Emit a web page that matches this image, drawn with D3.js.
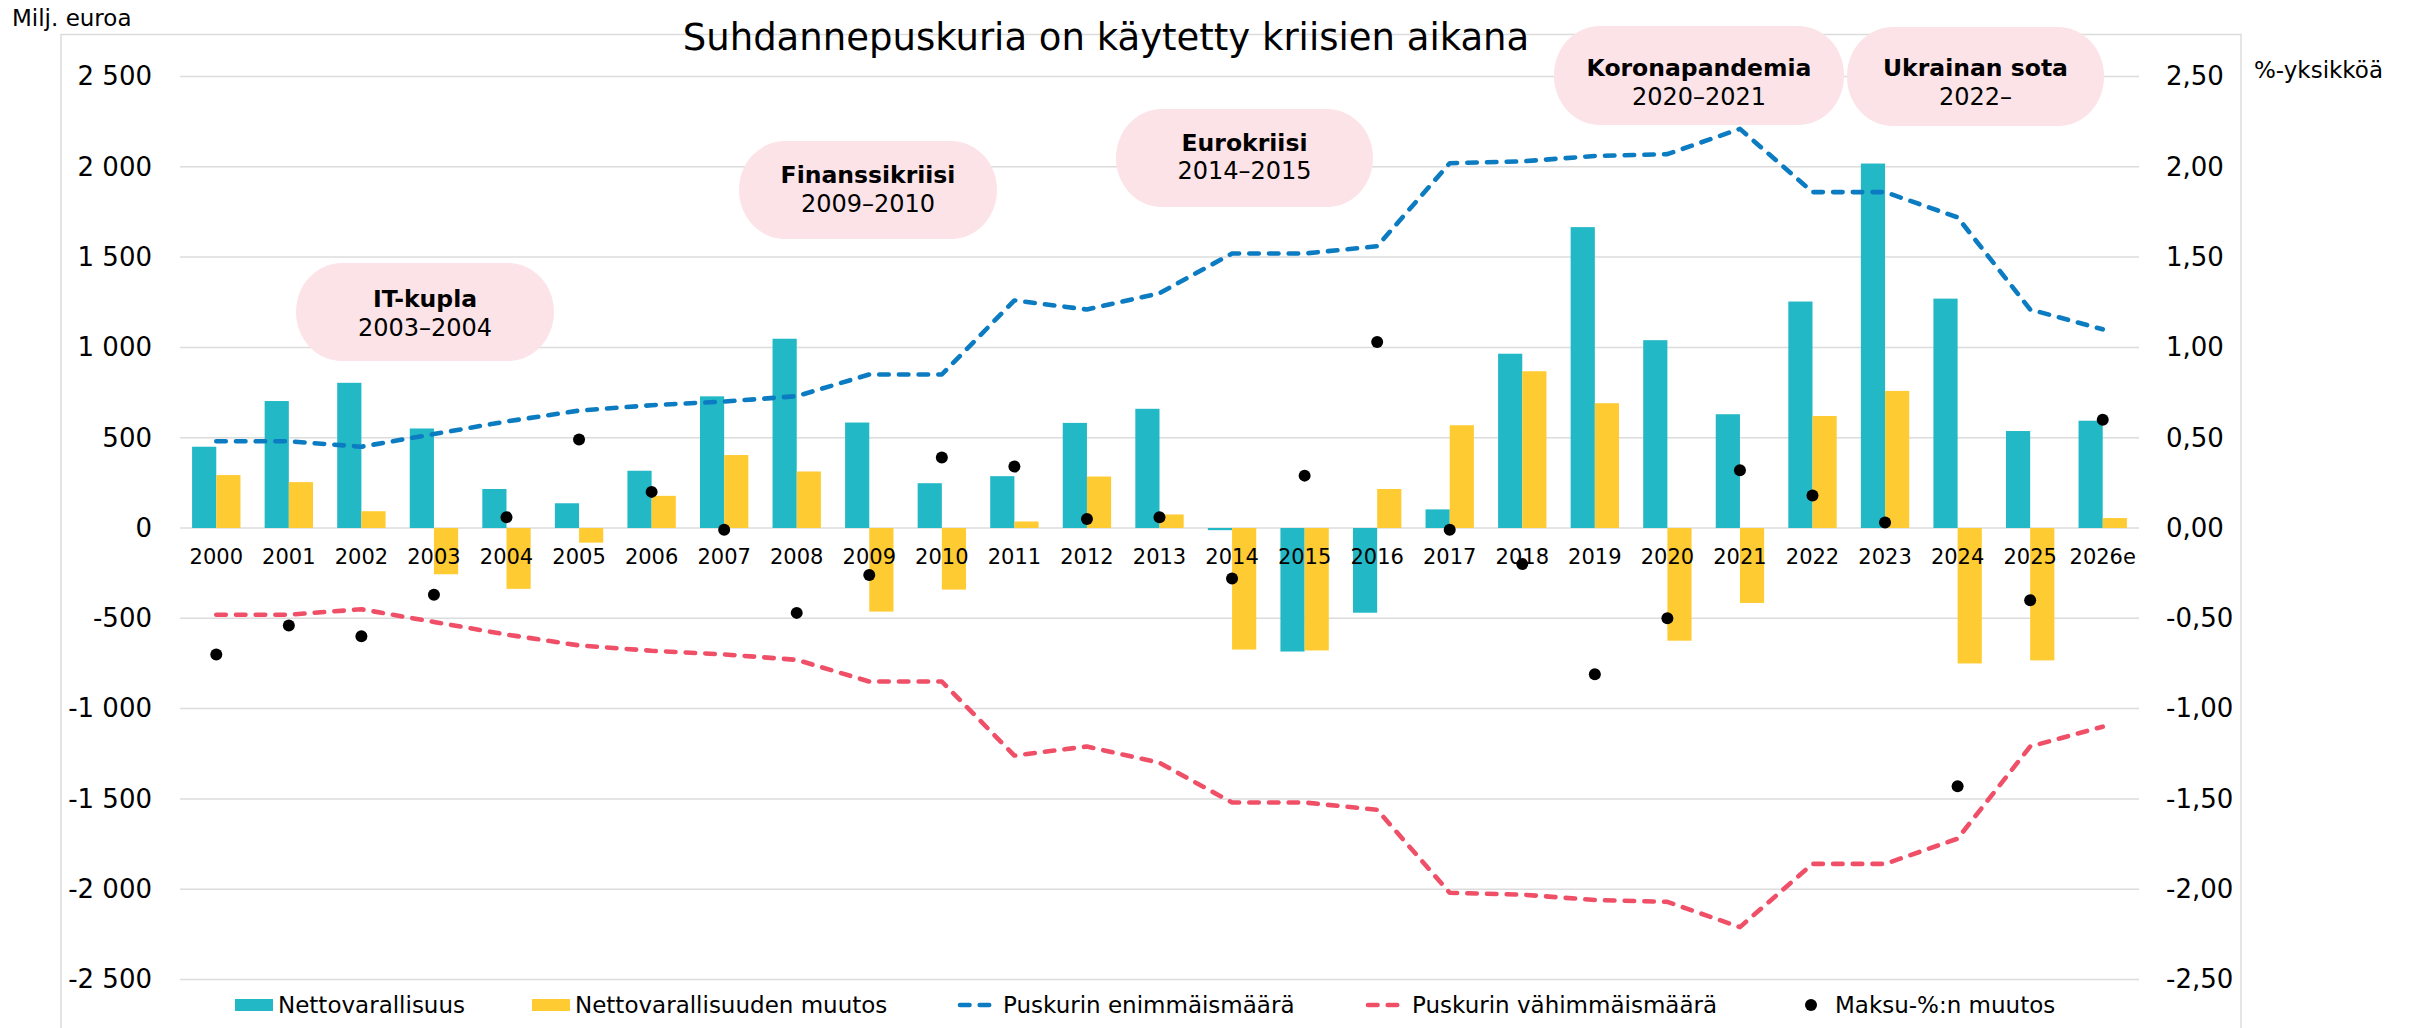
<!DOCTYPE html>
<html>
<head>
<meta charset="utf-8">
<script src="https://cdn.jsdelivr.net/npm/d3@7"></script>
<style>
  body { margin: 0; background: #fff; }
  svg text { font-family: "DejaVu Sans", Verdana, sans-serif; fill: #000; }
</style>
</head>
<body>
<div id="wrapper"></div>
<script>
// values
const categories = ["2000", "2001", "2002", "2003", "2004", "2005", "2006", "2007", "2008", "2009",
  "2010", "2011", "2012", "2013", "2014", "2015", "2016", "2017", "2018", "2019",
  "2020", "2021", "2022", "2023", "2024", "2025", "2026e"];

// milj. euroa (left axis)
const nettovarallisuus = [450, 703, 804, 551, 216, 137, 317, 729, 1048, 584,
  248, 287, 582, 660, -12, -684, -469, 103, 965, 1666,
  1040, 630, 1254, 2018, 1270, 537, 594];
const nettovarallisuudenMuutos = [293, 254, 93, -256, -337, -81, 178, 404, 313, -463,
  -341, 36, 285, 75, -673, -678, 216, 569, 868, 691,
  -624, -415, 620, 759, -750, -733, 55];

// %-yksikköä (right axis)
const puskurinEnimmais = [0.48, 0.48, 0.45, 0.52, 0.59, 0.65, 0.68, 0.70, 0.73, 0.85,
  0.85, 1.26, 1.21, 1.30, 1.52, 1.52, 1.56, 2.02, 2.03, 2.06,
  2.07, 2.21, 1.86, 1.86, 1.72, 1.21, 1.10];
const puskurinVahimmais = [-0.48, -0.48, -0.45, -0.52, -0.59, -0.65, -0.68, -0.70, -0.73, -0.85,
  -0.85, -1.26, -1.21, -1.30, -1.52, -1.52, -1.56, -2.02, -2.03, -2.06,
  -2.07, -2.21, -1.86, -1.86, -1.72, -1.21, -1.10];
const maksuMuutos = [-0.70, -0.54, -0.60, -0.37, 0.06, 0.49, 0.20, -0.01, -0.47, -0.26,
  0.39, 0.34, 0.05, 0.06, -0.28, 0.29, 1.03, -0.01, -0.20, -0.81,
  -0.50, 0.32, 0.18, 0.03, -1.43, -0.40, 0.60];

const leftTicks = [-2500, -2000, -1500, -1000, -500, 0, 500, 1000, 1500, 2000, 2500];
const rightTicks = [-2.5, -2, -1.5, -1, -0.5, 0, 0.5, 1, 1.5, 2, 2.5];

const crises = ["IT-kupla", "Finanssikriisi", "Eurokriisi", "Koronapandemia", "Ukrainan sota"];
const crisisYears = ["2003\u20132004", "2009\u20132010", "2014\u20132015", "2020\u20132021", "2022\u2013"];

const seriesNames = ["Nettovarallisuus", "Nettovarallisuuden muutos", "Puskurin enimmäismäärä",
  "Puskurin vähimmäismäärä", "Maksu-%:n muutos"];

const colors = {
  teal: "#23b8c6",
  yellow: "#ffcb33",
  blue: "#0b7bc2",
  red: "#ef5068",
  grid: "#dcdcdc",
  bubble: "#fce3e7"
};

const dimension = {
  width: 2417,
  height: 1028,
  plotLeft: 180,
  plotRight: 2139,
  plotTop: 76.5,
  plotBottom: 979.5
};

const fi = d3.formatLocale({ decimal: ",", thousands: "\u00a0", grouping: [3], currency: ["", ""], minus: "-" });
const fmtLeft = fi.format(",.0f");
const fmtRight = fi.format(".2f");

const svg = d3.select("#wrapper").append("svg")
  .attr("width", dimension.width)
  .attr("height", dimension.height);

const scaleX = d3.scaleBand()
  .domain(categories)
  .range([dimension.plotLeft, dimension.plotRight]);
const bw = scaleX.bandwidth();

const scaleY = d3.scaleLinear()
  .domain([-2500, 2500])
  .range([dimension.plotBottom, dimension.plotTop]);
const scaleY2 = d3.scaleLinear()
  .domain([-2.5, 2.5])
  .range([dimension.plotBottom, dimension.plotTop]);

// frame
svg.append("rect")
  .attr("x", 61).attr("y", 34.5)
  .attr("width", 2180).attr("height", 1040)
  .attr("fill", "none")
  .attr("stroke", colors.grid)
  .attr("stroke-width", 1.5);

// gridlines
svg.append("g").selectAll("line")
  .data(leftTicks)
  .join("line")
  .attr("x1", dimension.plotLeft).attr("x2", dimension.plotRight)
  .attr("y1", d => scaleY(d)).attr("y2", d => scaleY(d))
  .attr("stroke", colors.grid)
  .attr("stroke-width", 1.5);

// left axis
const axisLeft = svg.append("g")
  .attr("transform", "translate(152,0)")
  .call(d3.axisLeft(scaleY).tickValues(leftTicks).tickFormat(fmtLeft).tickSize(0).tickPadding(0));
axisLeft.select(".domain").remove();
axisLeft.selectAll("text")
  .attr("font-size", 26)
  .style("font-family", "DejaVu Sans")
  .attr("fill", "#000");

// right axis
const axisRight = svg.append("g")
  .attr("transform", "translate(2166,0)")
  .call(d3.axisRight(scaleY2).tickValues(rightTicks).tickFormat(fmtRight).tickSize(0).tickPadding(0));
axisRight.select(".domain").remove();
axisRight.selectAll("text")
  .attr("font-size", 26)
  .style("font-family", "DejaVu Sans")
  .attr("fill", "#000");

// axis titles & chart title
svg.append("text").attr("x", 12).attr("y", 26).attr("font-size", 23).text("Milj. euroa");
svg.append("text").attr("x", 2254).attr("y", 78).attr("font-size", 23).text("%-yksikköä");
svg.append("text")
  .attr("x", 1106).attr("y", 50)
  .attr("text-anchor", "middle")
  .attr("font-size", 37)
  .text("Suhdannepuskuria on käytetty kriisien aikana");

// bars
const barW = bw / 3;
const bars = svg.append("g");
bars.selectAll("rect.netto")
  .data(nettovarallisuus)
  .join("rect")
  .attr("class", "netto")
  .attr("x", (d, i) => scaleX(categories[i]) + bw / 6)
  .attr("y", d => scaleY(Math.max(0, d)))
  .attr("width", barW)
  .attr("height", d => Math.abs(scaleY(d) - scaleY(0)))
  .attr("fill", colors.teal);
bars.selectAll("rect.muutos")
  .data(nettovarallisuudenMuutos)
  .join("rect")
  .attr("class", "muutos")
  .attr("x", (d, i) => scaleX(categories[i]) + bw / 2)
  .attr("y", d => scaleY(Math.max(0, d)))
  .attr("width", barW)
  .attr("height", d => Math.abs(scaleY(d) - scaleY(0)))
  .attr("fill", colors.yellow);

// category labels
svg.append("g").selectAll("text")
  .data(categories)
  .join("text")
  .attr("x", d => scaleX(d) + bw / 2)
  .attr("y", 564)
  .attr("text-anchor", "middle")
  .attr("font-size", 21)
  .text(d => d);

// dashed lines
const line = d3.line()
  .x((d, i) => scaleX(categories[i]) + bw / 2)
  .y(d => scaleY2(d));

[[puskurinEnimmais, colors.blue], [puskurinVahimmais, colors.red]].forEach(([vals, c]) => {
  svg.append("path")
    .datum(vals)
    .attr("d", line)
    .attr("fill", "none")
    .attr("stroke", c)
    .attr("stroke-width", 4.6)
    .attr("stroke-linecap", "round")
    .attr("stroke-linejoin", "round")
    .attr("stroke-dasharray", "9.5 10.2");
});

// dots
svg.append("g").selectAll("circle")
  .data(maksuMuutos)
  .join("circle")
  .attr("cx", (d, i) => scaleX(categories[i]) + bw / 2)
  .attr("cy", d => scaleY2(d))
  .attr("r", 6)
  .attr("fill", "#000");

// crisis bubbles (pixel layout)
const bubbleBoxes = [
  { x0: 296, x1: 554, y0: 263, y1: 361, t1: 299, t2: 328 },
  { x0: 739, x1: 997, y0: 141, y1: 239, t1: 175, t2: 204 },
  { x0: 1116, x1: 1373, y0: 109, y1: 207, t1: 143, t2: 171 },
  { x0: 1554, x1: 1844, y0: 26, y1: 125, t1: 68, t2: 97 },
  { x0: 1847, x1: 2104, y0: 27, y1: 126, t1: 68, t2: 97 }
];
const bubbles = svg.append("g").selectAll("g")
  .data(crises)
  .join("g");
bubbles.append("rect")
  .attr("x", (d, i) => bubbleBoxes[i].x0)
  .attr("y", (d, i) => bubbleBoxes[i].y0)
  .attr("width", (d, i) => bubbleBoxes[i].x1 - bubbleBoxes[i].x0)
  .attr("height", (d, i) => bubbleBoxes[i].y1 - bubbleBoxes[i].y0)
  .attr("rx", 46).attr("ry", 49)
  .attr("fill", colors.bubble);
bubbles.append("text")
  .attr("x", (d, i) => (bubbleBoxes[i].x0 + bubbleBoxes[i].x1) / 2)
  .attr("y", (d, i) => bubbleBoxes[i].t1)
  .attr("dy", "0.35em")
  .attr("text-anchor", "middle")
  .attr("font-size", 23.5)
  .attr("font-weight", "bold")
  .text(d => d);
bubbles.append("text")
  .attr("x", (d, i) => (bubbleBoxes[i].x0 + bubbleBoxes[i].x1) / 2)
  .attr("y", (d, i) => bubbleBoxes[i].t2)
  .attr("dy", "0.35em")
  .attr("text-anchor", "middle")
  .attr("font-size", 24)
  .text((d, i) => crisisYears[i]);

// legend
const legendY = 1005;
const legend = svg.append("g");
legend.append("rect").attr("x", 235).attr("y", legendY - 6).attr("width", 38).attr("height", 12).attr("fill", colors.teal);
legend.append("rect").attr("x", 532).attr("y", legendY - 6).attr("width", 38).attr("height", 12).attr("fill", colors.yellow);
[[960, colors.blue], [1368, colors.red]].forEach(([x, c]) => {
  legend.append("line")
    .attr("x1", x).attr("x2", x + 30)
    .attr("y1", legendY).attr("y2", legendY)
    .attr("stroke", c).attr("stroke-width", 4.6)
    .attr("stroke-linecap", "round")
    .attr("stroke-dasharray", "9.5 10.2");
});
legend.append("circle").attr("cx", 1811).attr("cy", legendY).attr("r", 6).attr("fill", "#000");
const legendTextX = [278, 575, 1003, 1412, 1835];
legend.selectAll("text")
  .data(seriesNames)
  .join("text")
  .attr("x", (d, i) => legendTextX[i])
  .attr("y", legendY)
  .attr("dy", "0.35em")
  .attr("font-size", 23)
  .text(d => d);
</script>
</body>
</html>
